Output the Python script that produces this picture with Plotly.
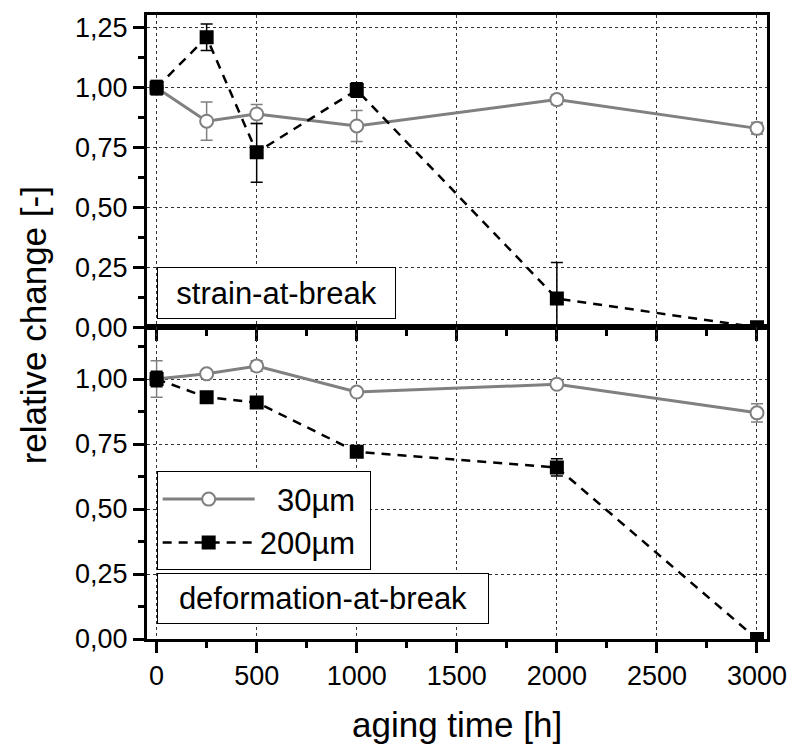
import plotly.graph_objects as go

# ---------------- data ----------------
aging_time = [0, 250, 500, 1000, 2000, 3000]

strain_30 = [1.00, 0.86, 0.89, 0.84, 0.95, 0.83]
strain_30_err = [0.03, 0.08, 0.04, 0.065, 0.02, 0.025]
strain_200 = [1.00, 1.21, 0.73, 0.99, 0.12, 0.00]
strain_200_err_plus = [0.03, 0.055, 0.12, 0.03, 0.15, 0.0]
strain_200_err_minus = [0.03, 0.055, 0.125, 0.03, 0.12, 0.0]

deform_30 = [1.00, 1.02, 1.05, 0.95, 0.98, 0.87]
deform_30_err = [0.07, 0.01, 0.02, 0.0, 0.0, 0.035]
deform_200 = [1.00, 0.93, 0.91, 0.72, 0.66, 0.00]
deform_200_err = [0.03, 0.0, 0.0, 0.0, 0.033, 0.0]

series_names = ["\u00a0\u00a030µm\u00a0", "200µm\u00a0"]
panel_labels = ["strain-at-break", "deformation-at-break"]
x_title = "aging time [h]"
y_title = "relative change [-]"

FONT = "Liberation Sans, Arial, sans-serif"
GRAY = "#808080"

fig = go.Figure()


def gray_trace(y, err, xa, ya, show):
    return go.Scatter(
        x=aging_time, y=y, xaxis=xa, yaxis=ya, name=series_names[0],
        mode="lines+markers", showlegend=show, legendgroup="30",
        line=dict(color=GRAY, width=3),
        marker=dict(symbol="circle", size=13, color="white",
                    line=dict(color=GRAY, width=2)),
        error_y=dict(type="data", array=err, color=GRAY, thickness=1.5, width=6),
    )


def black_trace(y, errp, errm, xa, ya, show):
    return go.Scatter(
        x=aging_time, y=y, xaxis=xa, yaxis=ya, name=series_names[1],
        mode="lines+markers", showlegend=show, legendgroup="200",
        line=dict(color="black", width=2.5, dash="9px,7px"),
        marker=dict(symbol="square", size=14, color="black",
                    line=dict(color="black", width=0)),
        error_y=dict(type="data", array=errp, arrayminus=errm, color="black",
                     thickness=1.5, width=6),
    )


fig.add_trace(gray_trace(strain_30, strain_30_err, "x", "y", True))
fig.add_trace(black_trace(strain_200, strain_200_err_plus, strain_200_err_minus, "x", "y", True))
fig.add_trace(gray_trace(deform_30, deform_30_err, "x2", "y2", False))
fig.add_trace(black_trace(deform_200, deform_200_err, deform_200_err, "x2", "y2", False))

xcommon = dict(
    range=[-48, 3050], dtick=500, tick0=0,
    showline=True, linewidth=3, linecolor="black", mirror=True,
    ticks="outside", ticklen=11, tickwidth=2.5, tickcolor="black",
    showgrid=True, gridcolor="#333333", gridwidth=1, griddash="dot",
    zeroline=False,
    minor=dict(dtick=250, tick0=0, ticks="outside", ticklen=6, tickwidth=2.5,
               tickcolor="black", showgrid=False),
    tickfont=dict(family=FONT, size=27, color="black"),
)
ycommon = dict(
    dtick=0.25, tick0=0, tickformat=".2f",
    showline=True, linewidth=3, linecolor="black", mirror=True,
    ticks="outside", ticklen=11, tickwidth=2.5, tickcolor="black",
    showgrid=True, gridcolor="#333333", gridwidth=1, griddash="dot",
    zeroline=False,
    minor=dict(dtick=0.125, tick0=0, ticks="outside", ticklen=6, tickwidth=2.5,
               tickcolor="black", showgrid=False),
    tickfont=dict(family=FONT, size=27, color="black"),
)

fig.update_layout(
    width=799, height=749,
    margin=dict(l=147, r=29, t=14, b=110),
    paper_bgcolor="white", plot_bgcolor="white",
    separators=",.",
    font=dict(family=FONT, color="black"),
    xaxis=dict(xcommon, anchor="y", showticklabels=False),
    yaxis=dict(ycommon, anchor="x", domain=[0.4995, 1.0], range=[0, 1.303]),
    xaxis2=dict(xcommon, anchor="y2", matches="x"),
    yaxis2=dict(ycommon, anchor="x2", domain=[0.0, 0.4995], range=[0, 1.199]),
    legend=dict(
        x=0.0156, y=0.2685, xanchor="left", yanchor="top",
        bgcolor="white", bordercolor="black", borderwidth=1,
        font=dict(family=FONT, size=31, color="black"),
        itemwidth=92, tracegroupgap=0,
    ),
    showlegend=True,
)

annotations = [
    dict(text=panel_labels[0], xref="x domain", yref="y domain",
         x=0.0156, y=0.027, xanchor="left", yanchor="bottom", showarrow=False,
         font=dict(family=FONT, size=31, color="black"),
         bordercolor="black", borderwidth=1, borderpad=4, bgcolor="white",
         width=229, height=42),
    dict(text=panel_labels[1], xref="x2 domain", yref="y2 domain",
         x=0.0156, y=0.049, xanchor="left", yanchor="bottom", showarrow=False,
         font=dict(family=FONT, size=31, color="black"),
         bordercolor="black", borderwidth=1, borderpad=4, bgcolor="white",
         width=322, height=41),
    dict(text=y_title, xref="paper", yref="paper", x=-0.183, y=0.502,
         xanchor="center", yanchor="middle", showarrow=False, textangle=-90,
         font=dict(family=FONT, size=35, color="black")),
    dict(text=x_title, xref="paper", yref="paper", x=0.5, y=-0.137,
         xanchor="center", yanchor="middle", showarrow=False,
         font=dict(family=FONT, size=35, color="black")),
]
fig.update_layout(annotations=annotations)

fig.write_html("out.html")
